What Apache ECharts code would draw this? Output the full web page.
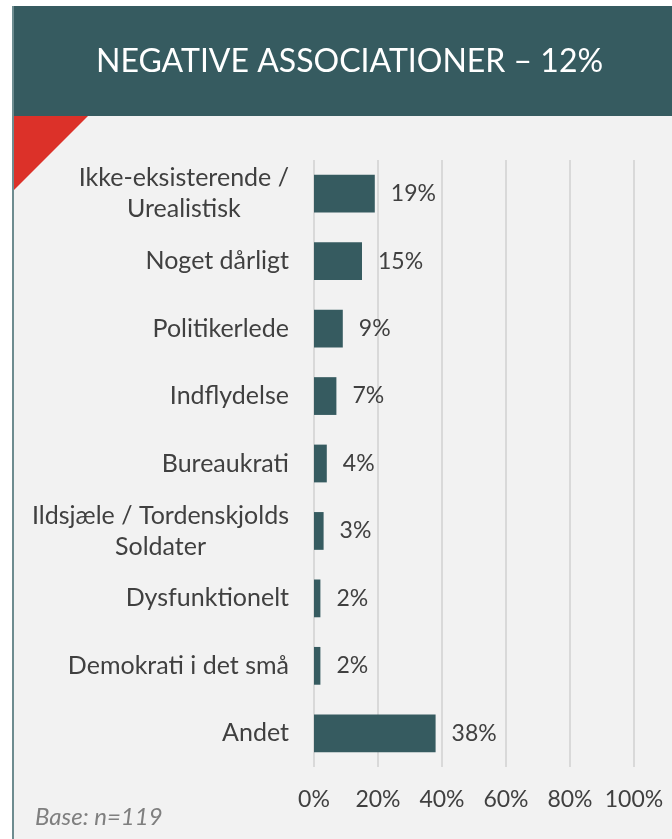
<!DOCTYPE html>
<html>
<head>
<meta charset="utf-8">
<script src="https://cdn.jsdelivr.net/npm/echarts@6/dist/echarts.min.js"></script>
<style>
	html, body { margin: 0; padding: 0; background: #fff; }
	#main { width: 672px; height: 839px; }
</style>
</head>
<body>
<div id="main"></div>
<script>
// data
var categories = ['Ikke-eksisterende /\nUrealistisk', 'Noget dårligt', 'Politikerlede', 'Indflydelse', 'Bureaukrati', 'Ildsjæle / Tordenskjolds\nSoldater', 'Dysfunktionelt', 'Demokrati i det små', 'Andet'];
var values = [19, 15, 9, 7, 4, 3, 2, 2, 38];
var tickLabels = ['0%', '20%', '40%', '60%', '80%', '100%'];

var teal = '#365B60';
var font = 'Lato';

var myChart = echarts.init(document.getElementById('main'));
var option = {
	backgroundColor: '#fff',
	textStyle: { fontFamily: font },
	animation: false,
	graphic: [
		// grey page below the header
		{ type: 'rect', shape: { x: 12, y: 6, width: 660, height: 833 }, style: { fill: '#F2F2F2' }, z: -10 },
		{ type: 'rect', shape: { x: 12, y: 6, width: 660, height: 110 }, style: { fill: teal }, z: -9 },
		{ type: 'polygon', shape: { points: [[13, 116], [88, 116], [13, 191]] }, style: { fill: '#DC3129' }, z: -8 },
		{ type: 'rect', shape: { x: 12, y: 6, width: 2, height: 833 }, style: { fill: '#6E8C90' }, z: -7 },
		{ type: 'text', left: 96, top: 46, style: { text: 'NEGATIVE ASSOCIATIONER – 12%', fill: '#fff', font: '32px ' + font } },
		{ type: 'text', left: 35, top: 805, style: { text: 'Base: n=119', fill: '#7F7F7F', font: 'italic 24px ' + font } }
	],
	grid: { left: 314, right: 38, top: 160, height: 607, containLabel: false },
	xAxis: {
		type: 'value',
		min: 0,
		max: 100,
		interval: 20,
		axisLine: { show: false },
		axisTick: { show: false },
		splitLine: { lineStyle: { color: '#D9D9D9', width: 2 } },
		axisLabel: {
			color: '#404040',
			fontSize: 23,
			margin: 21,
			formatter: function (v) { return tickLabels[v / 20]; }
		}
	},
	yAxis: {
		type: 'category',
		inverse: true,
		data: categories,
		axisLine: { show: false },
		axisTick: { show: false },
		axisLabel: {
			color: '#404040',
			fontSize: 25,
			margin: 25,
			lineHeight: 31,
			formatter: function (v) {
				return v.split('\n').map(function (s) { return '{c|' + s + '}'; }).join('\n');
			},
			rich: { c: { align: 'center', fontSize: 25, lineHeight: 31, color: '#404040' } }
		}
	},
	series: [{
		type: 'bar',
		data: values,
		barWidth: '56%',
		itemStyle: { color: teal },
		label: {
			show: true,
			position: 'right',
			distance: 16,
			color: '#404040',
			fontSize: 23,
			formatter: '{c}%'
		}
	}]
};
myChart.setOption(option);
</script>
</body>
</html>
